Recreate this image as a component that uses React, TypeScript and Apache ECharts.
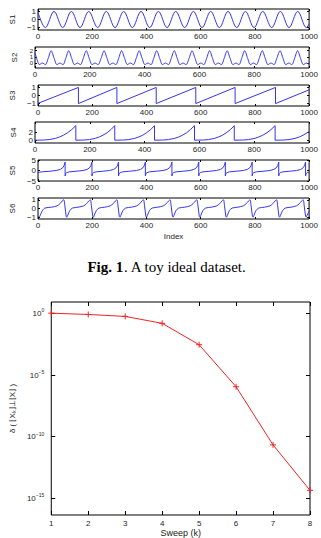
import React, { useEffect, useRef } from 'react';
import * as echarts from 'echarts';

// ---- toy dataset: six source signals over 1000 samples ----
const signalNames = ['S1', 'S2', 'S3', 'S4', 'S5', 'S6'];
const indexTicks = [0, 200, 400, 600, 800, 1000];

const s1: number[][] = [
  [0, 0.88], [27, -1], [59, 1], [91, -1], [123, 1], [155, -1], [187, 1], [220, -1], [252, 1],
  [284, -1], [316, 1], [348, -1], [380, 1], [412, -1], [444, 1], [476, -1], [508, 1], [541, -1],
  [573, 1], [605, -1], [637, 1], [669, -1], [701, 1], [733, -1], [765, 1], [797, -1], [829, 1],
  [862, -1], [894, 1], [926, -1], [958, 1], [990, -1], [1000, -0.56],
];

const s2: number[][] = [
  [0, 1.66], [6, 0.75], [16, -0.25], [27, 0], [38, -0.25], [48, 0.75],
  [59, 2], [70, 0.75], [80, -0.25], [91, 0], [102, -0.25], [112, 0.75],
  [123, 2], [134, 0.75], [144, -0.25], [155, 0], [166, -0.25], [176, 0.75],
  [187, 2], [198, 0.75], [208, -0.25], [219, 0], [230, -0.25], [241, 0.75],
  [252, 2], [263, 0.75], [273, -0.25], [284, 0], [295, -0.25], [305, 0.75],
  [316, 2], [327, 0.75], [337, -0.25], [348, 0], [359, -0.25], [369, 0.75],
  [380, 2], [391, 0.75], [401, -0.25], [412, 0], [423, -0.25], [433, 0.75],
  [444, 2], [455, 0.75], [465, -0.25], [476, 0], [487, -0.25], [497, 0.75],
  [508, 2], [519, 0.75], [529, -0.25], [540, 0], [551, -0.25], [562, 0.75],
  [573, 2], [584, 0.75], [594, -0.25], [605, 0], [616, -0.25], [626, 0.75],
  [637, 2], [648, 0.75], [658, -0.25], [669, 0], [680, -0.25], [690, 0.75],
  [701, 2], [712, 0.75], [722, -0.25], [733, 0], [744, -0.25], [754, 0.75],
  [765, 2], [776, 0.75], [786, -0.25], [797, 0], [808, -0.25], [818, 0.75],
  [829, 2], [840, 0.75], [850, -0.25], [861, 0], [872, -0.25], [882, 0.75],
  [894, 2], [905, 0.75], [915, -0.25], [926, 0], [937, -0.25], [947, 0.75],
  [958, 2], [969, 0.75], [979, -0.25], [990, 0], [1000, -0.22],
];

const s3: number[][] = [
  [0, -0.97], [149, 1], [149, -1], [291, 1], [291, -1], [436, 1], [436, -1],
  [582, 1], [582, -1], [727, 1], [727, -1], [876, 1], [876, -1], [1000, 0.7],
];

const s4: number[][] = [
  [0, 0], [30, 0.03], [52, 0.15], [75, 0.45], [89, 0.78], [104, 1.23], [119, 1.84], [134, 2.62], [149, 3.6], [149, 0],
  [177, 0.03], [199, 0.15], [220, 0.45], [234, 0.78], [248, 1.23], [263, 1.84], [277, 2.62], [291, 3.6], [291, 0],
  [320, 0.03], [342, 0.15], [364, 0.45], [378, 0.78], [393, 1.23], [407, 1.84], [422, 2.62], [436, 3.6], [436, 0],
  [465, 0.03], [487, 0.15], [509, 0.45], [524, 0.78], [538, 1.23], [553, 1.84], [567, 2.62], [582, 3.6], [582, 0],
  [611, 0.03], [633, 0.15], [655, 0.45], [669, 0.78], [684, 1.23], [698, 1.84], [713, 2.62], [727, 3.6], [727, 0],
  [757, 0.03], [779, 0.15], [802, 0.45], [816, 0.78], [831, 1.23], [846, 1.84], [861, 2.62], [876, 3.6], [876, 0],
  [905, 0.03], [927, 0.15], [949, 0.45], [964, 0.78], [978, 1.23], [993, 1.84], [1000, 2.1],
];

const s5: number[][] = [
  [0, -1.0], [6, -0.8], [17, -0.6], [40, -0.4], [67, 0], [82, 0.5], [91, 1.3], [96, 2.3], [100, 4], [100, -2.6],
  [102, -1.5], [106, -1.0], [115, -0.65], [140, -0.35], [166, 0], [181, 0.5], [190, 1.3], [195, 2.3], [199, 4], [199, -2.6],
  [201, -1.5], [205, -1.0], [214, -0.65], [239, -0.35], [264, 0], [279, 0.5], [288, 1.3], [293, 2.3], [297, 4], [297, -2.6],
  [299, -1.5], [303, -1.0], [312, -0.65], [337, -0.35], [363, 0], [378, 0.5], [387, 1.3], [392, 2.3], [396, 4], [396, -2.6],
  [398, -1.5], [402, -1.0], [411, -0.65], [436, -0.35], [461, 0], [476, 0.5], [485, 1.3], [490, 2.3], [494, 4], [494, -2.6],
  [496, -1.5], [500, -1.0], [509, -0.65], [534, -0.35], [560, 0], [575, 0.5], [584, 1.3], [589, 2.3], [593, 4], [593, -2.6],
  [595, -1.5], [599, -1.0], [608, -0.65], [633, -0.35], [658, 0], [673, 0.5], [682, 1.3], [687, 2.3], [691, 4], [691, -2.6],
  [693, -1.5], [697, -1.0], [706, -0.65], [731, -0.35], [757, 0], [772, 0.5], [781, 1.3], [786, 2.3], [790, 4], [790, -2.6],
  [792, -1.5], [796, -1.0], [805, -0.65], [830, -0.35], [855, 0], [870, 0.5], [879, 1.3], [884, 2.3], [888, 4], [888, -2.6],
  [890, -1.5], [894, -1.0], [903, -0.65], [928, -0.35], [954, 0], [969, 0.5], [978, 1.3], [983, 2.3], [987, 4], [987, -2.6],
  [989, -1.5], [993, -1.0], [1000, -0.8],
];

const s6: number[][] = [
  [0, -0.85], [4, -1], [8, -0.8], [15, -0.3], [25, 0.05],
  [50, 0.15], [70, 0.3], [81, 0.55], [89, 0.85], [95, 1], [99, 0.3], [104, -0.9], [106, -1], [110, -0.75], [117, -0.25], [127, 0.05],
  [148, 0.15], [168, 0.3], [179, 0.55], [187, 0.85], [193, 1], [197, 0.3], [202, -0.9], [204, -1], [208, -0.75], [215, -0.25], [225, 0.05],
  [246, 0.15], [266, 0.3], [277, 0.55], [285, 0.85], [291, 1], [295, 0.3], [300, -0.9], [302, -1], [306, -0.75], [313, -0.25], [323, 0.05],
  [344, 0.15], [364, 0.3], [375, 0.55], [383, 0.85], [389, 1], [393, 0.3], [398, -0.9], [400, -1], [404, -0.75], [411, -0.25], [421, 0.05],
  [442, 0.15], [462, 0.3], [473, 0.55], [481, 0.85], [487, 1], [491, 0.3], [496, -0.9], [498, -1], [502, -0.75], [509, -0.25], [519, 0.05],
  [541, 0.15], [561, 0.3], [572, 0.55], [580, 0.85], [586, 1], [590, 0.3], [595, -0.9], [597, -1], [601, -0.75], [608, -0.25], [618, 0.05],
  [639, 0.15], [659, 0.3], [670, 0.55], [678, 0.85], [684, 1], [688, 0.3], [693, -0.9], [695, -1], [699, -0.75], [706, -0.25], [716, 0.05],
  [737, 0.15], [757, 0.3], [768, 0.55], [776, 0.85], [782, 1], [786, 0.3], [791, -0.9], [793, -1], [797, -0.75], [804, -0.25], [814, 0.05],
  [835, 0.15], [855, 0.3], [866, 0.55], [874, 0.85], [880, 1], [884, 0.3], [889, -0.9], [891, -1], [895, -0.75], [902, -0.25], [912, 0.05],
  [933, 0.15], [953, 0.3], [964, 0.55], [972, 0.85], [978, 1], [982, 0.3], [987, -0.9], [989, -1], [993, -0.75], [1000, -0.3],
];

const signals = [s1, s2, s3, s4, s5, s6];
const signalSmooth = [0.36, 0.3, 0, 0, 0, 0.3];
const signalRanges = [[-1.3, 1.3], [-0.8, 2.6], [-1.3, 1.3], [-0.7, 4.5], [-5, 5], [-1.2, 1.2]];
const signalTicks = [[-1, 0, 1], [0, 1, 2], [-1, 0, 1], [0, 2], [-5, 0, 5], [-1, 0, 1]];
const signalLabelSize = [8, 6, 8, 8, 8, 8];

// ---- convergence per sweep (log scale) ----
const sweeps = [1, 2, 3, 4, 5, 6, 7, 8];
const deltaValues = [1.05, 0.83, 0.575, 0.158, 2.9e-3, 1.12e-6, 2.14e-11, 4.37e-15];
const decadeTicks = [-15, -10, -5, 0];

const FONT = 'Liberation Sans';
const INK = '#1e1e1e';
const BLUE = '#3434f0';
const RED = '#ee2424';

const minus = (v: number) => (v < 0 ? '\u2212' + Math.abs(v) : String(v));

export default function App() {
  const ref = useRef<HTMLDivElement>(null);

  useEffect(() => {
    const chart = echarts.init(ref.current!, null, { renderer: 'svg' });

    const grids: any[] = [];
    const xAxes: any[] = [];
    const yAxes: any[] = [];
    const series: any[] = [];
    const tops = [9, 47, 85, 122, 160, 198];

    const labelStyle = { fontSize: 8, fontFamily: FONT, color: INK };
    const keepAll = { hideOverlap: false, showMinLabel: true, showMaxLabel: true };
    const noLine = { show: false, onZero: false };
    const tick = (len: number, values?: number[]) => ({
      inside: true, length: len, lineStyle: { color: '#000', width: 1 },
      ...(values ? { customValues: values } : {}),
    });

    signals.forEach((data, i) => {
      grids.push({
        left: 35, width: 275, top: tops[i], height: 21,
        show: true, borderColor: '#000', borderWidth: 1, backgroundColor: 'transparent',
      });
      const xi = xAxes.length;
      xAxes.push({
        type: 'value', gridIndex: i, min: 0, max: 1000, position: 'bottom',
        axisLine: noLine, splitLine: { show: false },
        axisTick: tick(2, indexTicks),
        axisLabel: { ...labelStyle, ...keepAll, margin: 2, customValues: indexTicks, formatter: (v: number) => String(v) },
        name: i === 5 ? 'Index' : '', nameLocation: 'middle', nameGap: 13,
        nameTextStyle: { ...labelStyle, color: '#222' },
      });
      xAxes.push({
        type: 'value', gridIndex: i, min: 0, max: 1000, position: 'top',
        axisLine: noLine, splitLine: { show: false },
        axisTick: tick(2, indexTicks),
        axisLabel: { show: false },
      });
      const yi = yAxes.length;
      const [lo, hi] = signalRanges[i];
      yAxes.push({
        type: 'value', gridIndex: i, min: lo, max: hi, position: 'left',
        axisLine: noLine, splitLine: { show: false },
        axisTick: tick(2, signalTicks[i]),
        axisLabel: {
          ...labelStyle, ...keepAll, fontSize: signalLabelSize[i], lineHeight: signalLabelSize[i], margin: 2,
          customValues: signalTicks[i], formatter: (v: number) => minus(v),
        },
        name: signalNames[i], nameLocation: 'middle', nameGap: 15, nameRotate: 90,
        nameTextStyle: { ...labelStyle, color: '#222' },
      });
      yAxes.push({
        type: 'value', gridIndex: i, min: lo, max: hi, position: 'right',
        axisLine: noLine, splitLine: { show: false },
        axisTick: tick(2, signalTicks[i]),
        axisLabel: { show: false },
      });
      series.push({
        type: 'line', xAxisIndex: xi, yAxisIndex: yi, data,
        symbol: 'none', smooth: signalSmooth[i] || false, silent: true,
        lineStyle: { color: BLUE, width: 1 },
      });
    });

    // convergence plot
    const g = grids.length;
    grids.push({
      left: 35, width: 275, top: 302, height: 216,
      show: true, borderColor: '#000', borderWidth: 1, backgroundColor: 'transparent',
    });
    const bx = xAxes.length;
    xAxes.push({
      type: 'value', gridIndex: g, min: 1, max: 8, interval: 1, position: 'bottom',
      axisLine: noLine, splitLine: { show: false },
      axisTick: tick(4),
      axisLabel: { ...labelStyle, ...keepAll, margin: 4 },
      name: 'Sweep (k)', nameLocation: 'middle', nameGap: 13,
      nameTextStyle: { ...labelStyle, fontSize: 9, color: '#222' },
    });
    xAxes.push({
      type: 'value', gridIndex: g, min: 1, max: 8, interval: 1, position: 'top',
      axisLine: noLine, splitLine: { show: false },
      axisTick: tick(4),
      axisLabel: { show: false },
    });
    const by = yAxes.length;
    yAxes.push({
      type: 'value', gridIndex: g, min: -16.36, max: 0.93, position: 'left',
      axisLine: noLine, splitLine: { show: false },
      axisTick: tick(4, decadeTicks),
      axisLabel: {
        ...labelStyle, ...keepAll, margin: 7, customValues: decadeTicks,
        formatter: (v: number) => `{b|10}{s|${minus(v)}}`,
        rich: {
          b: { fontSize: 8, fontFamily: FONT, color: INK },
          s: { fontSize: 5, fontFamily: FONT, color: INK, padding: [0, 0, 6, 0] },
        },
      },
      name: 'δ ( ⌊X\u2096⌋⊥⌊X⌋ )', nameLocation: 'middle', nameGap: 29, nameRotate: 90,
      nameTextStyle: { ...labelStyle, color: '#222' },
    });
    yAxes.push({
      type: 'value', gridIndex: g, min: -16.36, max: 0.93, position: 'right',
      axisLine: noLine, splitLine: { show: false },
      axisTick: tick(4, decadeTicks),
      axisLabel: { show: false },
    });
    series.push({
      type: 'line', xAxisIndex: bx, yAxisIndex: by,
      data: sweeps.map((k, i) => [k, Math.log10(deltaValues[i])]),
      symbol: 'path://M5 0 L5 10 M0 5 L10 5', symbolSize: 6, showSymbol: true,
      itemStyle: { color: 'none', borderColor: RED, borderWidth: 1 },
      lineStyle: { color: RED, width: 1 },
      silent: true,
    });

    chart.setOption({
      animation: false,
      grid: grids,
      xAxis: xAxes,
      yAxis: yAxes,
      series,
      graphic: [
        {
          type: 'text', x: 167, y: 267,
          style: {
            text: '{b|Fig. 1}{r|. A toy ideal dataset.}',
            align: 'center', verticalAlign: 'middle',
            rich: {
              b: { fontSize: 15, fontFamily: 'Liberation Serif', fontWeight: 'bold', fill: '#000' },
              r: { fontSize: 15, fontFamily: 'Liberation Serif', fill: '#000' },
            },
          },
        },
      ],
    });

    return () => chart.dispose();
  }, []);

  return (
    <div
      ref={ref}
      style={{ position: 'fixed', left: 0, top: 0, width: 321, height: 538, background: '#fff' }}
    />
  );
}
